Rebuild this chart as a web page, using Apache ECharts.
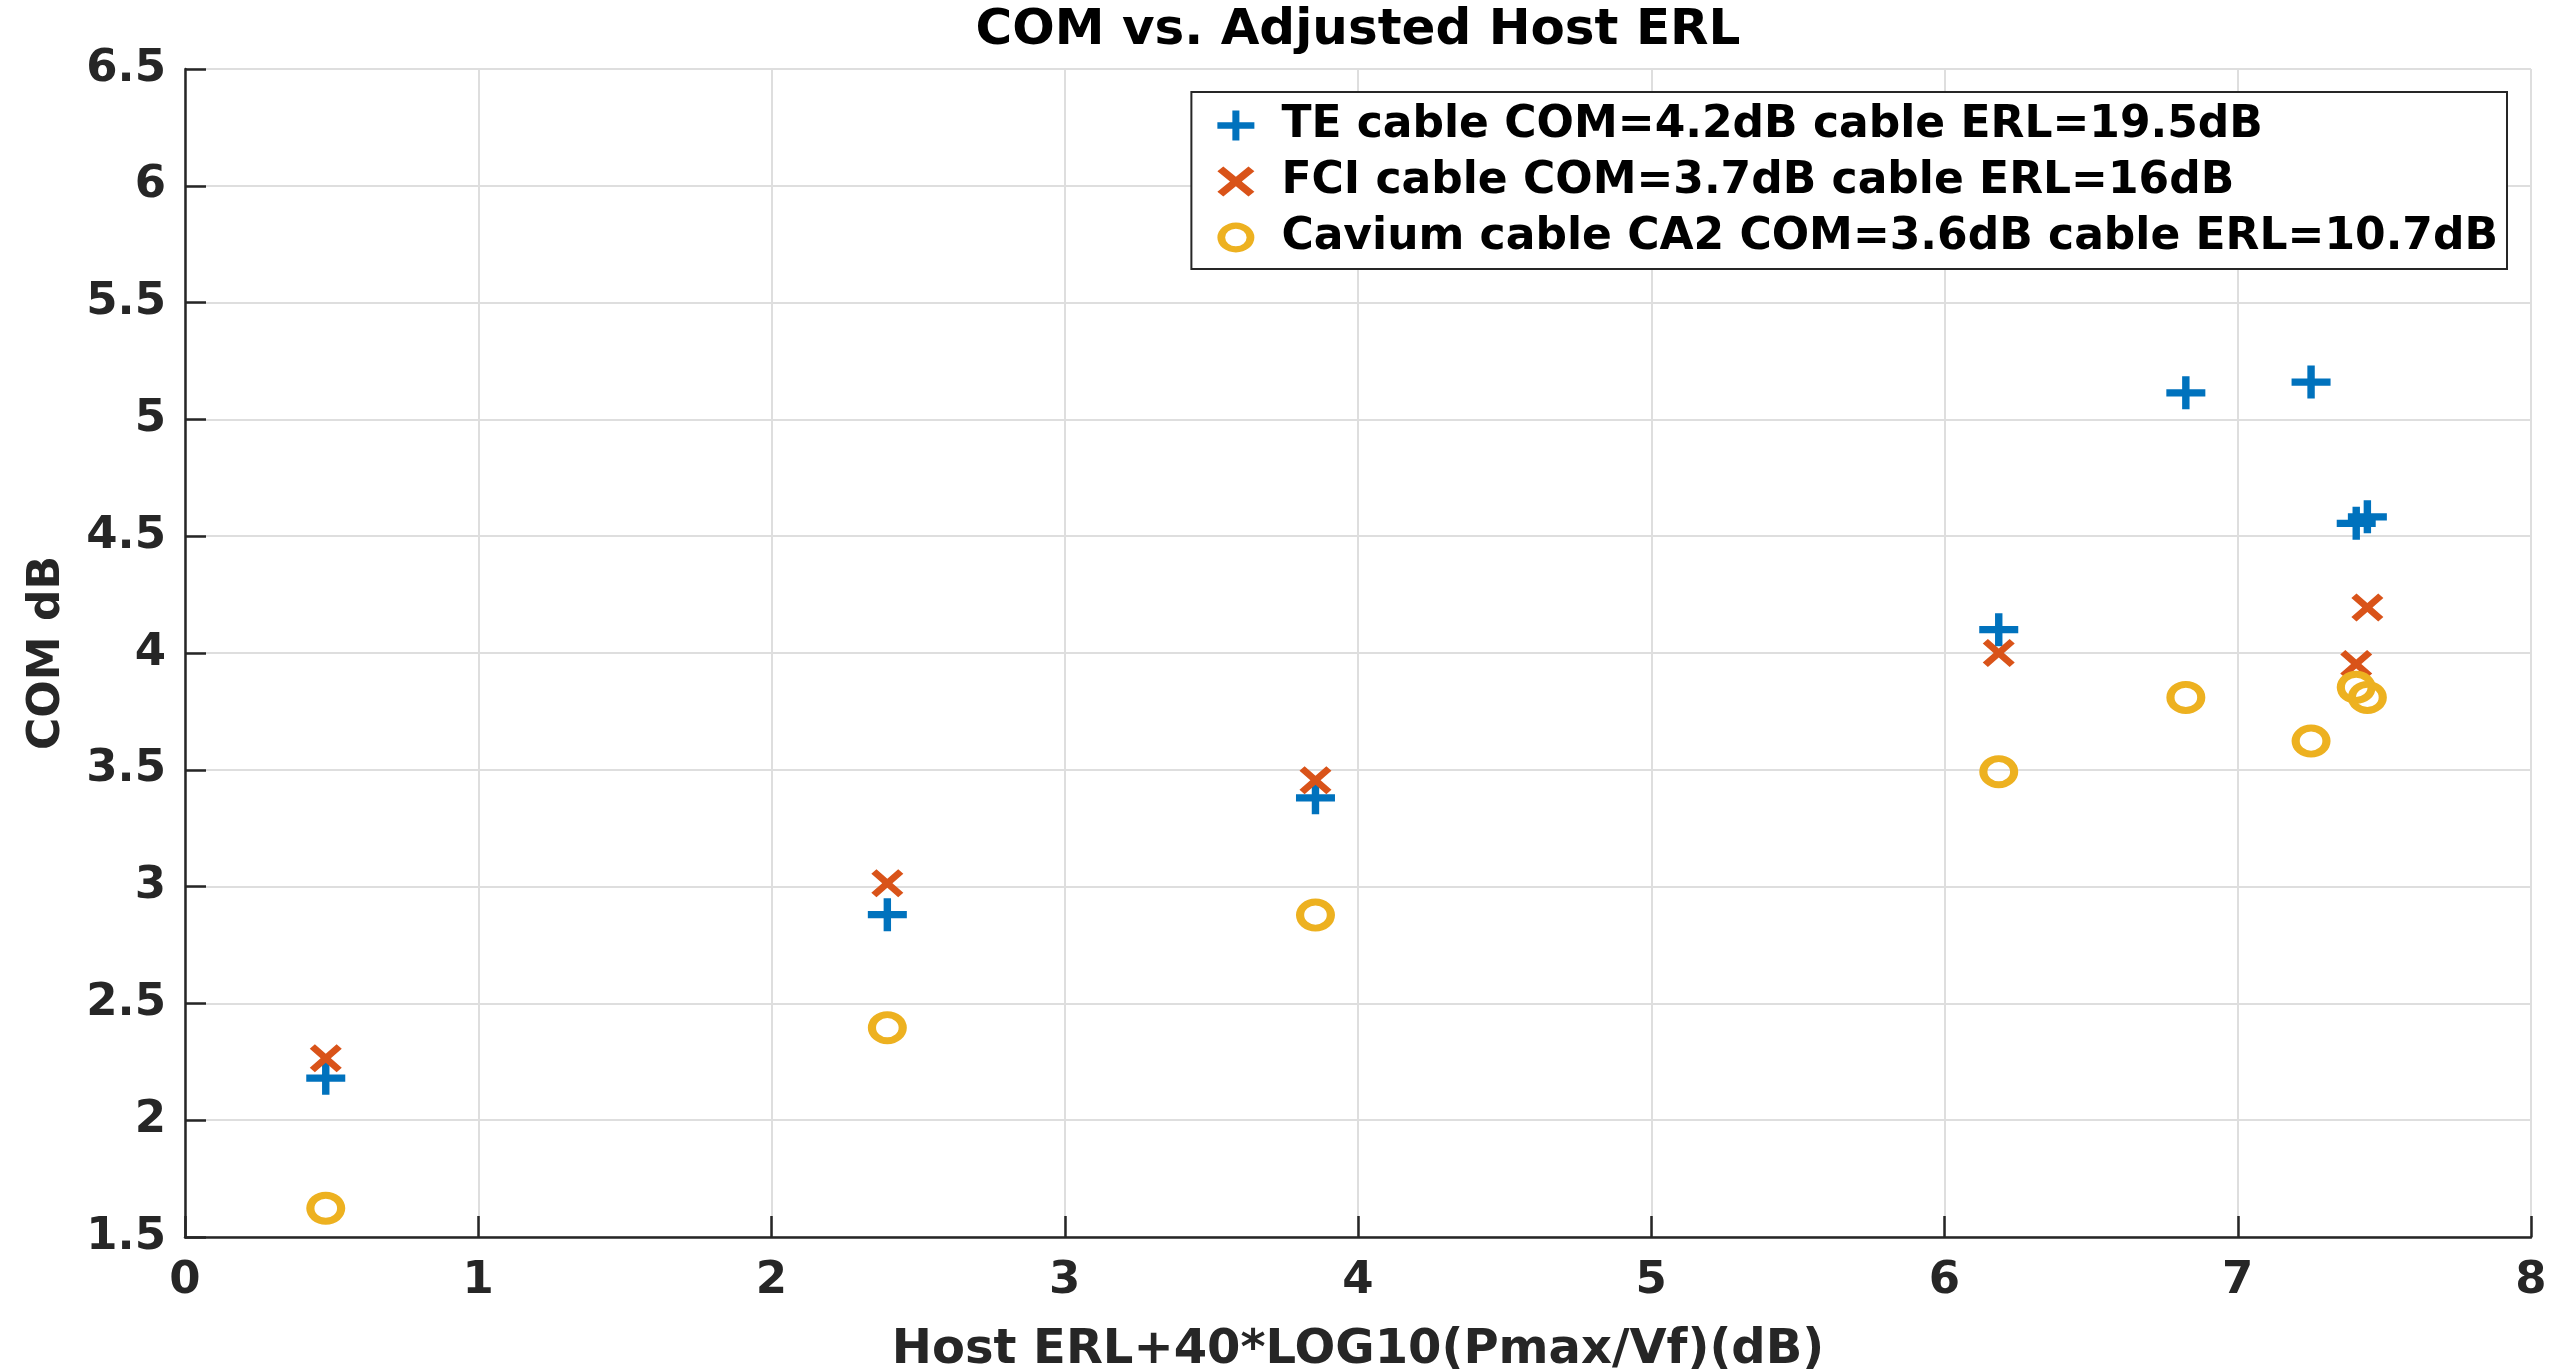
<!DOCTYPE html>
<html>
<head>
<meta charset="utf-8">
<title>COM vs. Adjusted Host ERL</title>
<script src="https://cdn.jsdelivr.net/npm/echarts@6.0.0/dist/echarts.min.js"></script>
<style>
  html, body { margin: 0; padding: 0; background: #fff; }
  #chart { width: 2569px; height: 1372px; }
</style>
</head>
<body>
<div id="chart"></div>
<script>
// x: Host ERL+40*LOG10(Pmax/Vf) (dB), y: COM (dB)
var teX  = [0.48, 2.395, 3.855, 6.185, 6.823, 7.25, 7.404, 7.442];
var teY  = [2.18, 2.88, 3.38, 4.10, 5.114, 5.16, 4.555, 4.583];
var fciX = [0.48, 2.395, 3.855, 6.185, 7.404, 7.442];
var fciY = [2.265, 3.014, 3.455, 4.00, 3.953, 4.195];
var cavX = [0.48, 2.395, 3.855, 6.185, 6.823, 7.25, 7.404, 7.442];
var cavY = [1.623, 2.396, 2.878, 3.492, 3.81, 3.623, 3.853, 3.81];

var seriesNames = [
    'TE cable COM=4.2dB cable ERL=19.5dB',
    'FCI cable COM=3.7dB cable ERL=16dB',
    'Cavium cable CA2 COM=3.6dB cable ERL=10.7dB'
];
var xRange = [0, 8, 1];      // min, max, step
var yRange = [1.5, 6.5, 0.5];

var FONT = '"DejaVu Sans", "Liberation Sans", sans-serif';
var AXIS_COLOR = '#262626';

// matlab style markers
var plusPath = 'path://M40.5,0H59.5V39H100V61H59.5V100H40.5V61H0V39H40.5Z';
var crossPath = 'path://M0,16L16,0L50,34L84,0L100,16L66,50L100,84L84,100L50,66L16,100L0,84L34,50Z';
var ringPath = 'path://M0,50A50,50,0,1,0,100,50A50,50,0,1,0,0,50ZM21,50A29,29,0,1,1,79,50A29,29,0,1,1,21,50Z';

function pair(xs, ys) {
    return xs.map(function (x, i) { return [x, ys[i]]; });
}

function axisBase() {
    return {
        type: 'value',
        nameLocation: 'middle',
        nameTextStyle: { fontFamily: FONT, fontWeight: 'bold', fontSize: 48, color: AXIS_COLOR },
        axisLine: { show: true, onZero: false, lineStyle: { color: AXIS_COLOR, width: 2.5 } },
        axisTick: { show: true, inside: true, length: 21, lineStyle: { color: AXIS_COLOR, width: 2.5 } },
        axisLabel: { fontFamily: FONT, fontWeight: 'bold', fontSize: 45, color: AXIS_COLOR },
        splitLine: { show: true, lineStyle: { color: '#dedede', width: 2 } }
    };
}

var chart = echarts.init(document.getElementById('chart'));

var xAxis = axisBase();
xAxis.min = xRange[0];
xAxis.max = xRange[1];
xAxis.interval = xRange[2];
xAxis.name = 'Host ERL+40*LOG10(Pmax/Vf)(dB)';
xAxis.nameGap = 90;
xAxis.axisLabel.margin = 22;

var yAxis = axisBase();
yAxis.min = yRange[0];
yAxis.max = yRange[1];
yAxis.interval = yRange[2];
yAxis.name = 'COM dB';
yAxis.nameGap = 115;
yAxis.nameRotate = 90;
yAxis.nameTextStyle.fontSize = 44;
yAxis.axisLabel.margin = 19;

chart.setOption({
    animation: false,
    backgroundColor: '#fff',
    title: {
        text: 'COM vs. Adjusted Host ERL',
        left: 1358,
        top: 6,
        textAlign: 'center',
        padding: 0,
        textStyle: { fontFamily: FONT, fontWeight: 'bold', fontSize: 50, lineHeight: 50, color: '#000' }
    },
    grid: {
        left: 185,
        right: 38,
        top: 69,
        bottom: 135,
        outerBoundsMode: 'none'
    },
    legend: {
        orient: 'vertical',
        right: 62,
        top: 92,
        padding: [11, 9, 9, 26],
        itemWidth: 37,
        itemHeight: 30,
        itemGap: 11,
        symbolKeepAspect: false,
        borderColor: AXIS_COLOR,
        borderWidth: 2,
        borderRadius: 0,
        backgroundColor: '#fff',
        textStyle: { fontFamily: FONT, fontWeight: 'bold', fontSize: 44, lineHeight: 45, color: '#000', padding: [0, 0, 0, 22] },
        data: seriesNames
    },
    xAxis: xAxis,
    yAxis: yAxis,
    series: [{
        name: seriesNames[0],
        type: 'scatter',
        symbol: plusPath,
        symbolSize: [39, 33],
        itemStyle: { color: '#0072BD', opacity: 1 },
        data: pair(teX, teY)
    }, {
        name: seriesNames[1],
        type: 'scatter',
        symbol: crossPath,
        symbolSize: [32, 28],
        itemStyle: { color: '#D95319', opacity: 1 },
        data: pair(fciX, fciY)
    }, {
        name: seriesNames[2],
        type: 'scatter',
        symbol: ringPath,
        symbolSize: [39, 33],
        itemStyle: { color: '#EDB120', opacity: 1 },
        data: pair(cavX, cavY)
    }]
});
</script>
</body>
</html>
